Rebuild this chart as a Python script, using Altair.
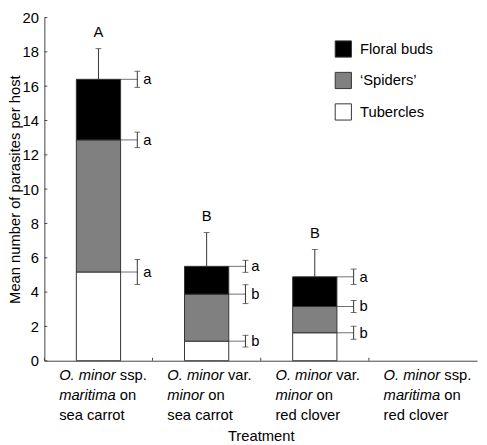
import altair as alt
import pandas as pd

# ---------------- data ----------------
treatments = [
    "O. minor ssp. maritima on sea carrot",
    "O. minor var. minor on sea carrot",
    "O. minor var. minor on red clover",
    "O. minor ssp. maritima on red clover",
]
# label pieces per treatment: (italic part, plain part) for each line
label_line1 = [("O. minor", "ssp."), ("O. minor", "var."), ("O. minor", "var."), ("O. minor", "ssp.")]
label_line2 = [("maritima", "on"), ("minor", "on"), ("minor", "on"), ("maritima", "on")]
label_line3 = [("", "sea carrot"), ("", "sea carrot"), ("", "red clover"), ("", "red clover")]

components = ["Floral buds", "\u2018Spiders\u2019", "Tubercles"]
tubercles = [5.17, 1.14, 1.63]
spiders = [7.70, 2.74, 1.53]
floral_buds = [3.53, 1.62, 1.73]

tubercles_se = [0.73, 0.34, 0.38]
spiders_se = [0.45, 0.55, 0.35]
floral_buds_se = [0.47, 0.35, 0.45]
total_se = [1.79, 1.97, 1.59]

tubercles_letter = ["a", "b", "b"]
spiders_letter = ["a", "b", "b"]
floral_buds_letter = ["a", "a", "a"]
total_letter = ["A", "B", "B"]

y_ticks = [0, 2, 4, 6, 8, 10, 12, 14, 16, 18, 20]

# ---------------- tables ----------------
rows = []
for i in range(len(tubercles)):
    base = 0.0
    for comp, vals, ses, lets in [
        ("Tubercles", tubercles, tubercles_se, tubercles_letter),
        ("\u2018Spiders\u2019", spiders, spiders_se, spiders_letter),
        ("Floral buds", floral_buds, floral_buds_se, floral_buds_letter),
    ]:
        top = base + vals[i]
        rows.append(dict(cat=treatments[i], component=comp, lo=base, hi=top,
                         err_lo=top - ses[i], err_hi=top + ses[i], letter=lets[i]))
        base = top
long_df = pd.DataFrame(rows)

tot_df = pd.DataFrame(dict(
    cat=treatments[:3],
    total=[t + s + f for t, s, f in zip(tubercles, spiders, floral_buds)],
    se=total_se, letter=total_letter))
tot_df["err_top"] = tot_df["total"] + tot_df["se"]

cat_df = pd.DataFrame(dict(cat=treatments))
ytick_df = pd.DataFrame(dict(v=y_ticks))

# ---------------- layout / style ----------------
W, H = 440, 349
FONT = "Liberation Sans"
FS = 15
INK = "#333333"
AXC = "#444444"

# Arial/Liberation Sans advance widths (per 1000 em) to chain italic + plain text
CW = {" ": 278, ".": 278, "O": 778, "m": 833, "i": 222, "n": 556, "o": 556, "r": 333,
      "a": 556, "t": 278}
def text_w(s):
    return sum(CW.get(ch, 556) for ch in s) * FS / 1000.0

LEFT = -40
pieces = []
for line_no, line in enumerate([label_line1, label_line2, label_line3], start=1):
    for cat, (it, pl) in zip(treatments, line):
        if it:
            pieces.append(dict(cat=cat, line=line_no, text=it, italic=True, dx=LEFT))
            pieces.append(dict(cat=cat, line=line_no, text=pl, italic=False,
                               dx=round(LEFT + text_w(it + " "), 1)))
        else:
            pieces.append(dict(cat=cat, line=line_no, text=pl, italic=False, dx=LEFT))
pieces_df = pd.DataFrame(pieces)

xscale = alt.Scale(domain=treatments, paddingInner=0, paddingOuter=0)
yscale = alt.Scale(domain=[0, 20], nice=False, zero=True)

def X(**kw):
    return alt.X("cat:N", sort=treatments, scale=xscale,
                 axis=alt.Axis(labels=False, ticks=False, title="Treatment",
                               titleY=81, titleBaseline="alphabetic", domainColor=AXC,
                               titleFont=FONT, titleFontSize=FS, titleFontWeight="normal",
                               titleColor="black"),
                 **kw)

def Y(field):
    return alt.Y(field, scale=yscale,
                 axis=alt.Axis(values=y_ticks, ticks=False, labelPadding=6,
                               title="Mean number of parasites per host",
                               titleX=-25, titleY=H / 2, titleBaseline="alphabetic",
                               domainColor=AXC, labelFont=FONT, labelFontSize=FS,
                               labelColor="black", titleFont=FONT, titleFontSize=FS,
                               titleFontWeight="normal", titleColor="black"))

bars = alt.Chart(long_df).mark_bar(size=45, stroke=INK, strokeWidth=1).encode(
    x=X(), y=Y("lo:Q"), y2="hi:Q",
    color=alt.Color("component:N",
                    scale=alt.Scale(domain=components, range=["#000000", "#808080", "#ffffff"]),
                    legend=alt.Legend(title=None, orient="none", legendX=295, legendY=23,
                                      symbolType="square", symbolSize=272,
                                      symbolStrokeColor=INK, symbolStrokeWidth=1,
                                      symbolOpacity=1, labelFontSize=FS, labelFont=FONT,
                                      labelColor="black", labelOffset=8, rowPadding=10,
                                      padding=0)),
)

# total error bar and group letters
tot_rule = alt.Chart(tot_df).mark_rule(color=INK, strokeWidth=1).encode(
    x=X(), y=Y("total:Q"), y2="err_top:Q")
tot_cap = alt.Chart(tot_df).mark_tick(color=INK, size=6, thickness=1).encode(
    x=X(), y=Y("err_top:Q"))
tot_txt = alt.Chart(tot_df).mark_text(font=FONT, fontSize=FS, color="black",
                                      baseline="middle", dy=-17).encode(
    x=X(), y=Y("err_top:Q"), text="letter:N")

# component error bars beside each bar
EX = 39.5
side_rule = alt.Chart(long_df).mark_rule(color=INK, strokeWidth=1, xOffset=EX).encode(
    x=X(), y=Y("err_lo:Q"), y2="err_hi:Q")
side_cap_lo = alt.Chart(long_df).mark_tick(color=INK, size=6, thickness=1, xOffset=EX).encode(
    x=X(), y=Y("err_lo:Q"))
side_cap_hi = alt.Chart(long_df).mark_tick(color=INK, size=6, thickness=1, xOffset=EX).encode(
    x=X(), y=Y("err_hi:Q"))
connector = alt.Chart(long_df).mark_tick(color=INK, size=17, thickness=1, xOffset=31).encode(
    x=X(), y=Y("hi:Q"))
side_txt = alt.Chart(long_df).mark_text(font=FONT, fontSize=FS, color="black", align="left",
                                        baseline="middle", dx=EX + 6).encode(
    x=X(), y=Y("hi:Q"), text="letter:N")

# inward tick marks
yticks_layer = alt.Chart(ytick_df).mark_rule(color=AXC, strokeWidth=1).encode(
    x=alt.value(0), x2=alt.value(3), y=Y("v:Q"))
xticks_layer = alt.Chart(cat_df).mark_rule(color=AXC, strokeWidth=1).encode(
    x=X(bandPosition=0), y=alt.value(H), y2=alt.value(H - 3))

# category labels with mixed italic / plain text
label_layers = []
for (line_no, dx, italic), sub in pieces_df.groupby(["line", "dx", "italic"]):
    label_layers.append(
        alt.Chart(sub).mark_text(font=FONT, fontSize=FS, color="black", align="left",
                                 baseline="alphabetic", dx=float(dx),
                                 fontStyle="italic" if italic else "normal").encode(
            x=X(), y=alt.value(H + 20 * int(line_no)), text="text:N"))

chart = alt.layer(
    bars, tot_rule, tot_cap, tot_txt, side_rule, side_cap_lo, side_cap_hi, connector,
    side_txt, yticks_layer, xticks_layer, *label_layers
).properties(
    width=W, height=H,
    autosize=alt.AutoSizeParams(type="none"),
    padding={"left": 37, "top": 6, "right": 2, "bottom": 82},
).configure(font=FONT).configure_view(stroke=None).configure_axis(
    grid=False, labelFont=FONT, titleFont=FONT, labelFontSize=FS, titleFontSize=FS,
    labelColor="black", titleColor="black", titleFontWeight="normal",
)

chart.save("out.html", embed_options={"renderer": "svg", "actions": False})
